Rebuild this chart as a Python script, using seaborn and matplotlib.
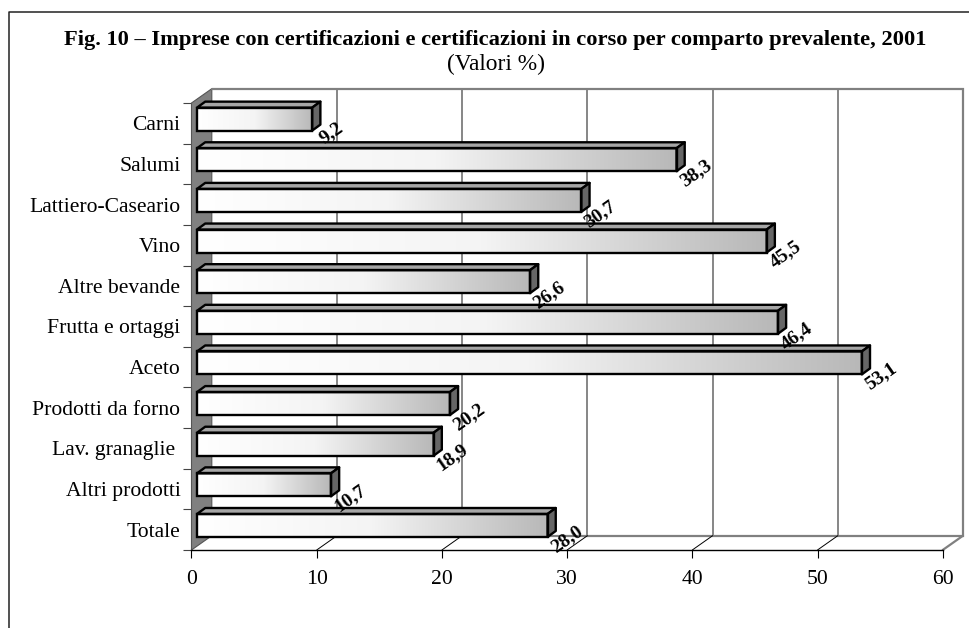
import numpy as np
import pandas as pd
import matplotlib
matplotlib.use("Agg")
import matplotlib.pyplot as plt
import seaborn as sns
from matplotlib.colors import LinearSegmentedColormap
from matplotlib.lines import Line2D
from matplotlib.patches import Polygon
from matplotlib.transforms import Affine2D

categories = ["Carni", "Salumi", "Lattiero-Caseario", "Vino", "Altre bevande",
              "Frutta e ortaggi", "Aceto", "Prodotti da forno", "Lav. granaglie ",
              "Altri prodotti", "Totale"]
values = [9.2, 38.3, 30.7, 45.5, 26.6, 46.4, 53.1, 20.2, 18.9, 10.7, 28.0]
value_labels = ["9,2", "38,3", "30,7", "45,5", "26,6", "46,4", "53,1", "20,2", "18,9", "10,7", "28,0"]
x_ticks = [0, 10, 20, 30, 40, 50, 60]
title = "Fig. 10 – Imprese con certificazioni e certificazioni in corso per comparto prevalente, 2001"
subtitle = "(Valori %)"

W, H = 970, 628
SERIF = "Liberation Serif"
sns.set_theme(style="white")
plt.rcParams["font.family"] = [SERIF, "DejaVu Sans"]

fig = plt.figure(figsize=(W / 100, H / 100), dpi=100, facecolor="white")
L, R, T, B = 191.5, 942.7, 103, 550
ax = fig.add_axes([L / W, (H - B) / H, (R - L) / W, (B - T) / H])
ax.patch.set_alpha(0)

df = pd.DataFrame({"categoria": categories, "valore": values})
sns.barplot(data=df, x="valore", y="categoria", orient="h", width=0.565,
            fill=False, color="black", linewidth=1.7, ax=ax, zorder=6)
bars = list(ax.patches)
ax.set_xlim(0, 60)
ax.set_ylim(10.5, -0.5)

back = Affine2D().translate(20.3, 14.3)
bar_shift = Affine2D().translate(5.5, 4.2)
GRAY = "#808080"

# Back wall, grid and floor
x_scale = (R - L) / 60
y_scale = (B - T) / 11
dxw, dyw = 20.3 / x_scale, 14.3 / y_scale
ax.add_patch(Polygon([(0, 10.5), (0, -0.5), (dxw, -0.5 - dyw), (dxw, 10.5 - dyw)],
                     closed=True, fc=GRAY, ec="#555555", lw=0.8, clip_on=False, zorder=1))
ax.vlines(x_ticks[1:-1], -0.5, 10.5, colors="#666666", lw=1.1,
          transform=ax.transData + back, clip_on=False, zorder=1)
ax.plot([0, 1, 1, 0], [1, 1, 0, 0], color=GRAY, lw=1.6,
        transform=ax.transAxes + back, clip_on=False, zorder=1, solid_joinstyle="miter")
ax.plot([1, 1 + dxw / 60], [0, dyw / 11], color=GRAY, lw=1.6,
        transform=ax.transAxes, clip_on=False, zorder=1)
for t in x_ticks[1:-1]:
    ax.plot([t, t + dxw], [10.5, 10.5 - dyw], color="black", lw=0.7, clip_on=False, zorder=1)

# 3D bars
cmap = LinearSegmentedColormap.from_list("bar", ["#ffffff", "#f4f4f4", "#b8b8b8"], N=256)
ddx, ddy = 8.2 / x_scale, 6.0 / y_scale
grad = np.linspace(0, 1, 256)[None, :]
for patch, lab in zip(bars, value_labels):
    x0, y0 = patch.get_x(), patch.get_y()
    w, h = patch.get_width(), patch.get_height()
    tr = ax.transData + bar_shift
    patch.set_transform(tr)
    patch.set_clip_on(False)
    patch.set_edgecolor("black")
    im = ax.imshow(grad, cmap=cmap, extent=[x0, x0 + w, y0 + h, y0], aspect="auto",
                   zorder=4, interpolation="bilinear")
    im.set_transform(tr)
    im.set_clip_on(False)
    top = Polygon([(x0, y0), (x0 + ddx, y0 - ddy), (x0 + w + ddx, y0 - ddy), (x0 + w, y0)],
                  closed=True, fc="#a6a6a6", ec="black", lw=1.7, transform=tr,
                  clip_on=False, zorder=5, joinstyle="round")
    side = Polygon([(x0 + w, y0), (x0 + w + ddx, y0 - ddy), (x0 + w + ddx, y0 + h - ddy), (x0 + w, y0 + h)],
                   closed=True, fc="#666666", ec="black", lw=1.7, transform=tr,
                   clip_on=False, zorder=5, joinstyle="round")
    ax.add_patch(top)
    ax.add_patch(side)
    ax.text(x0 + w, y0 + h, lab, rotation=35, rotation_mode="anchor", ha="center", va="center",
            fontsize=14, fontweight="bold", color="black", family=SERIF,
            transform=tr + Affine2D().translate(19, -2), clip_on=False, zorder=8)
ax.set_xlim(0, 60)
ax.set_ylim(10.5, -0.5)

# Axes furniture
ax.set_xlabel("")
ax.set_ylabel("")
for s in ["top", "right", "left"]:
    ax.spines[s].set_visible(False)
ax.spines["bottom"].set_color("black")
ax.spines["bottom"].set_linewidth(1.0)
ax.spines["bottom"].set_zorder(3)
ax.set_xticks(x_ticks)
ax.set_yticks(range(len(categories)))
ax.set_yticklabels(categories)
ax.set_yticks(np.arange(-0.5, 11), minor=True)
ax.tick_params(axis="x", length=5.5, width=0.8, color="black", pad=9, labelsize=15.6, bottom=True)
ax.tick_params(axis="y", which="major", length=0, pad=8, labelsize=15.6, left=False)
ax.tick_params(axis="y", which="minor", length=6, width=0.8, color="#444444", left=True)
for lbl in ax.get_yticklabels() + ax.get_xticklabels():
    lbl.set_color("black")

# Figure frame (open on the right and bottom, as cropped in the source)
fig.add_artist(Line2D([9.5 / W, 9.5 / W, 1], [0, (H - 12) / H, (H - 12) / H], color="#222222", lw=1.1))
fig.text(495.5 / W, (H - 40) / H, title, ha="center", va="center", fontsize=16.2, fontweight="bold", color="black")
fig.text(496.5 / W, (H - 64) / H, subtitle, ha="center", va="center", fontsize=16.8, color="black")

fig.savefig("out.png", dpi=100, facecolor="white")
